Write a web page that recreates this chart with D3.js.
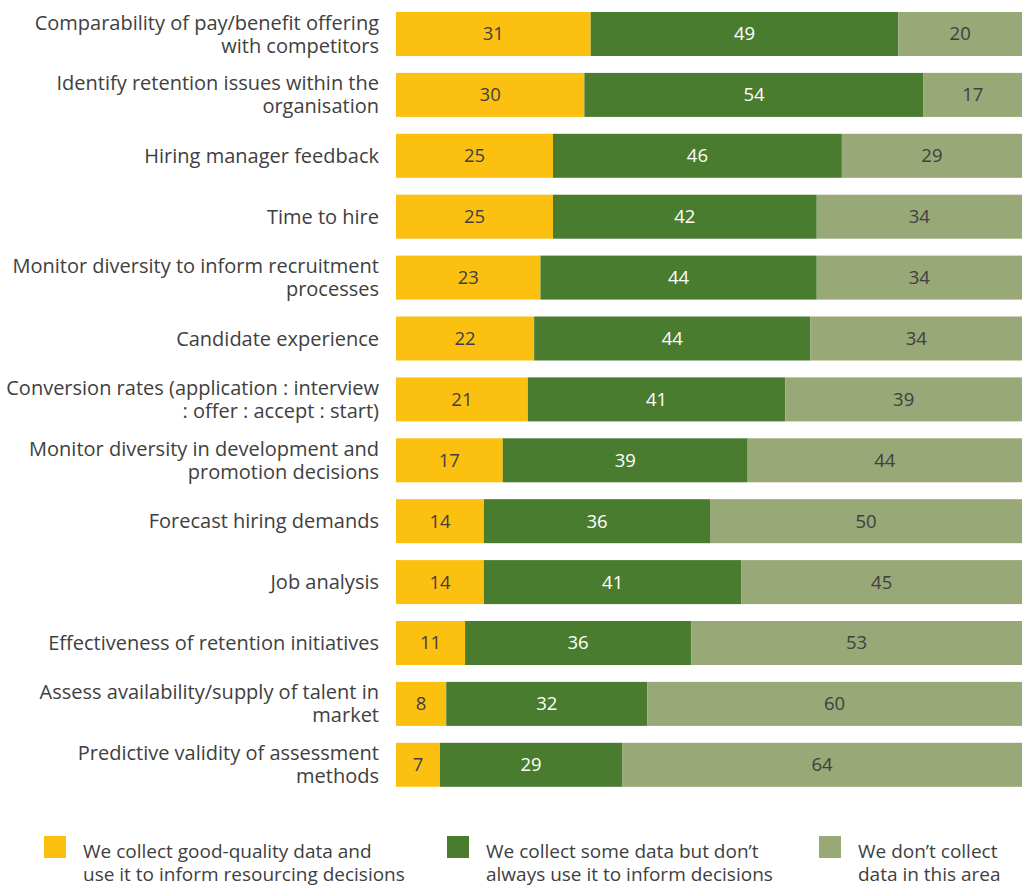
<!DOCTYPE html>
<html><head><meta charset="utf-8">
<script src="https://cdn.jsdelivr.net/npm/d3@7"></script>
<style>body{margin:0;background:#fff}svg{display:block}</style>
</head><body>
<svg id="chart" width="1022" height="887"></svg>
<script>
const categories = [
  ["Comparability of pay/benefit offering","with competitors"],
  ["Identify retention issues within the","organisation"],
  ["Hiring manager feedback"],
  ["Time to hire"],
  ["Monitor diversity to inform recruitment","processes"],
  ["Candidate experience"],
  ["Conversion rates (application : interview",": offer : accept : start)"],
  ["Monitor diversity in development and","promotion decisions"],
  ["Forecast hiring demands"],
  ["Job analysis"],
  ["Effectiveness of retention initiatives"],
  ["Assess availability/supply of talent in","market"],
  ["Predictive validity of assessment","methods"]
];
const goodData = [31,30,25,25,23,22,21,17,14,14,11,8,7];
const someData = [49,54,46,42,44,44,41,39,36,41,36,32,29];
const noData   = [20,17,29,34,34,34,39,44,50,45,53,60,64];
const seriesNames = [
  ["We collect good-quality data and","use it to inform resourcing decisions"],
  ["We collect some data but don\u2019t","always use it to inform decisions"],
  ["We don\u2019t collect","data in this area"]
];
const colors = ["#FCC010","#4A7C2F","#98A876"];
const textColors = ["#404040","#ffffff","#404040"];

const svg = d3.select("#chart");
const font = "'Open Sans', Lato, sans-serif";
const x = d3.scaleLinear().domain([0,100]).range([396,1024]);
const y = d3.scaleBand().domain(d3.range(categories.length)).range([12, 786.8]).paddingInner(0.2775).paddingOuter(0);

const series = [goodData, someData, noData];
const rows = categories.map((c,i)=>{
  let acc = 0;
  return series.map((s,k)=>{ const v = s[i]; const seg = {i,k,v,x0:acc,x1:acc+v}; acc += v; return seg; });
});

const g = svg.append("g");
const segs = g.selectAll("g.row").data(rows).join("g").attr("class","row")
  .selectAll("g.seg").data(d=>d).join("g").attr("class","seg");
segs.append("rect")
  .attr("x", d=>x(d.x0)).attr("width", d=>x(d.x1)-x(d.x0))
  .attr("y", d=>y(d.i)).attr("height", y.bandwidth())
  .attr("fill", d=>colors[d.k]);
segs.append("text")
  .attr("x", d=>(x(d.x0)+Math.min(x(d.x1),1022))/2)
  .attr("y", d=>y(d.i)+y.bandwidth()/2)
  .attr("dy","0.35em").attr("text-anchor","middle")
  .attr("font-family",font).attr("font-size",18.5)
  .attr("fill", d=>textColors[d.k])
  .text(d=>d.v);

// category labels
const labels = g.selectAll("text.cat").data(categories).join("text").attr("class","cat")
  .attr("text-anchor","end").attr("font-family",font).attr("font-size",20).attr("fill","#404040");
labels.each(function(lines,i){
  const cy = y(i)+y.bandwidth()/2;
  const lh = 23;
  const t = d3.select(this);
  lines.forEach((ln,j)=>{
    t.append("tspan").attr("x",379)
      .attr("y", cy + (j-(lines.length-1)/2)*lh).attr("dy","0.35em").text(ln);
  });
});

// legend
const legendX = [44,447,819];
const lg = svg.selectAll("g.leg").data(seriesNames).join("g").attr("class","leg")
  .attr("transform",(d,k)=>`translate(${legendX[k]},836)`);
lg.append("rect").attr("width",22).attr("height",22).attr("fill",(d,k)=>colors[k]);
lg.append("text").attr("font-family",font).attr("font-size",19).attr("fill","#404040")
  .each(function(lines){
    const t = d3.select(this);
    lines.forEach((ln,j)=>t.append("tspan").attr("x",39).attr("y",15+j*23).attr("dy","0.35em").text(ln));
  });
</script>
</body></html>
